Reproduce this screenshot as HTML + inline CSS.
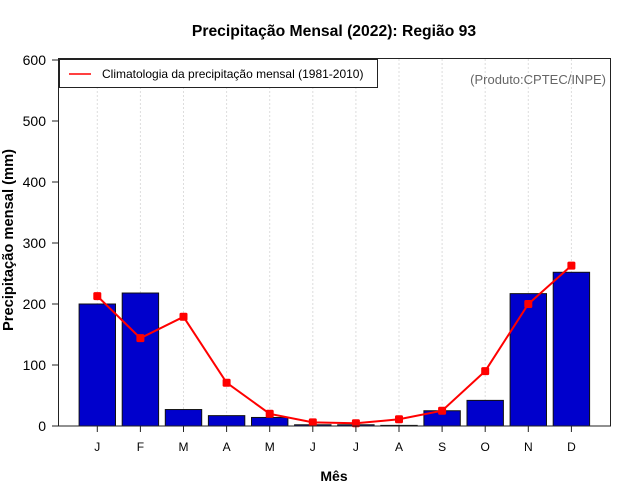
<!DOCTYPE html>
<html><head><meta charset="utf-8"><style>
body{margin:0;background:#fff}
svg{display:block;font-family:"Liberation Sans",sans-serif}
</style></head><body>
<svg id="chart" width="640" height="500" xmlns="http://www.w3.org/2000/svg">
<text x="334" y="36" text-anchor="middle" font-size="15.7" font-weight="bold">Precipitação Mensal (2022): Região 93</text>
<text transform="translate(13,240) rotate(-90)" text-anchor="middle" font-size="14.7" font-weight="bold">Precipitação mensal (mm)</text>
<text x="334" y="481" text-anchor="middle" font-size="14" font-weight="bold">Mês</text>
<g id="grid"></g><g id="bars"></g><g id="line"></g><g id="axes"></g>
<rect x="58.5" y="58.5" width="552" height="367.5" fill="none" stroke="#222" stroke-width="1"/>
<g>
<rect x="59.5" y="59.5" width="318" height="28" fill="#fff" stroke="#222"/>
<line x1="69" y1="74" x2="91" y2="74" stroke="#f00" stroke-width="1.5"/>
<text x="102" y="78" font-size="12">Climatologia da precipitação mensal (1981-2010)</text>
</g>
<text x="606" y="84" text-anchor="end" font-size="13" fill="#666">(Produto:CPTEC/INPE)</text>
</svg>
<script>
const months=["J","F","M","A","M","J","J","A","S","O","N","D"];
const observed=[200,218,27,17,14,2,2,1,25,42,217,252];
const climatology=[213,144,179,71,20,6,4.5,11,25,90,200,263];
const yTicks=[0,100,200,300,400,500,600];
const NS="http://www.w3.org/2000/svg";
const xs=i=>97.3+i*43.1;
const ys=v=>426-v*0.61;
function mk(t,a,p){const e=document.createElementNS(NS,t);for(const k in a)e.setAttribute(k,a[k]);p.appendChild(e);return e;}
const grid=document.getElementById('grid'),bars=document.getElementById('bars'),line=document.getElementById('line'),axes=document.getElementById('axes');
months.forEach((m,i)=>{
 const g=mk('line',{x1:xs(i),x2:xs(i),y1:59,y2:426,stroke:'#ddd','stroke-dasharray':'2,2'},grid);
 
 
 const b=mk('rect',{x:xs(i)-18.2,y:ys(observed[i]),width:36.4,height:426-ys(observed[i]),fill:'#0000cc',stroke:'#111','stroke-width':1},bars);
 
 
 const t=mk('line',{x1:xs(i),x2:xs(i),y1:426,y2:432,stroke:'#222'},axes);
 
 
 const l=mk('text',{x:xs(i),y:451,'text-anchor':'middle','font-size':12},axes);
 l.textContent=m;
 
 
});
const pl=mk('polyline',{points:climatology.map((v,i)=>xs(i)+','+ys(v)).join(' '),fill:'none',stroke:'#f00','stroke-width':2},line);


climatology.forEach((v,i)=>{
 const p=mk('rect',{x:xs(i)-4,y:ys(v)-4,width:8,height:8,rx:1.5,fill:'#f00'},line);
 
 
});
yTicks.forEach(v=>{
 const t=mk('line',{x1:52,x2:58,y1:ys(v),y2:ys(v),stroke:'#222'},axes);
 
 
 const l=mk('text',{x:46,y:ys(v)+5,'text-anchor':'end','font-size':14},axes);
 l.textContent=v;
 
 
});
</script>
</body></html>
